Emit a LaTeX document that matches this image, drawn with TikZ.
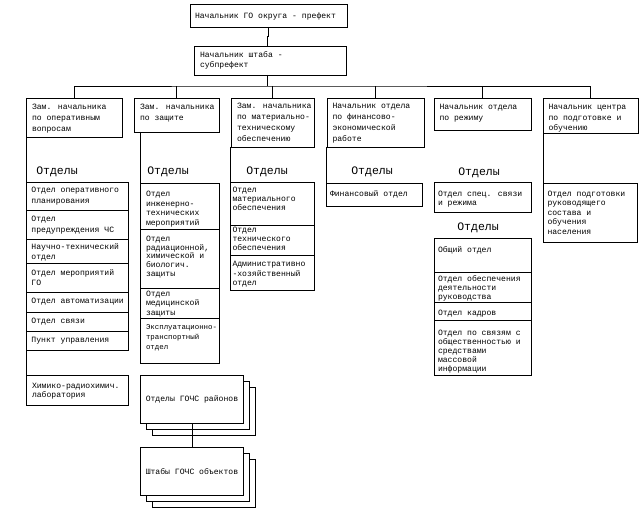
\documentclass[tikz,border=0pt]{standalone}
\usepackage{fontspec}
\newfontfamily\cf{Liberation Mono}
\usetikzlibrary{shadows}
\newcommand\tp{4pt}
\newcommand\hp{5.5pt}
\tikzset{
  cellst/.style={draw, line width=0.9pt, anchor=north west, inner sep=0pt, outer sep=0pt},
  stackst/.style={draw, line width=0.9pt, fill=white, anchor=north west, inner sep=0pt,
    minimum width=103pt, minimum height=48pt, font=\cf\fontsize{8.1}{10}\selectfont,
    copy shadow={shadow xshift=12pt, shadow yshift=-12pt},
    copy shadow={shadow xshift=6pt, shadow yshift=-6pt}},
  otd/.style={inner sep=0pt, font=\cf\fontsize{11.5}{12}\selectfont},
  conn/.style={line width=0.9pt}
}
\newcommand\cell[7][]{\node[cellst] (#2) at (#3,#4) {\parbox[c][#6pt][t]{#5pt}{\cf\fontsize{8.1}{10}\selectfont#1\vspace*{\tp}\hspace*{\hp}\begin{tabular}[t]{@{}l@{}}#7\end{tabular}}};}
\begin{document}
\begin{tikzpicture}[x=1pt,y=-1pt]
\useasboundingbox (0,0) rectangle (640,510);
% top
\cell[\def\tp{8pt}\def\hp{5pt}]{top}{190}{4}{157}{23}{Начальник ГО округа - префект}
\cell[\def\tp{5pt}\def\hp{6pt}]{sub}{194}{46}{152}{29}{Начальник штаба -\\субпрефект}
% headers
\cell[\fontsize{8.1}{11}\selectfont\def\tp{4.3pt}\def\hp{6pt}]{h1}{26}{98}{96}{39}{Зам. начальника\\по оперативным\\вопросам}
\cell[\fontsize{8.1}{11}\selectfont\def\tp{4.3pt}\def\hp{6pt}]{h2}{134}{98}{85}{34}{Зам. начальника\\по защите}
\cell[\fontsize{8.1}{10.7}\selectfont\def\tp{3.5pt}\def\hp{6pt}]{h3}{231}{98}{83}{49}{Зам. начальника\\по материально-\\техническому\\обеспечению}
\cell[\fontsize{8.1}{11}\selectfont\def\tp{2.5pt}\def\hp{5.5pt}]{h4}{327}{98}{97}{49}{Начальник отдела\\по финансово-\\экономической\\работе}
\cell[\fontsize{8.1}{11}\selectfont\def\tp{4.3pt}\def\hp{5.5pt}]{h5}{434}{98}{97}{32}{Начальник отдела\\по режиму}
\cell[\fontsize{8.1}{10.5}\selectfont\def\tp{4.5pt}\def\hp{5.5pt}]{h6}{543}{98}{95}{35}{Начальник центра\\по подготовке и\\обучению}
% Otdely labels
\node[otd] (o1) at (57,172) {Отделы};
\node[otd] (o2) at (168,172) {Отделы};
\node[otd] (o3) at (267,172) {Отделы};
\node[otd] (o4) at (372,172) {Отделы};
\node[otd] (o5) at (479,173) {Отделы};
\node[otd] (o6) at (478,228) {Отделы};
% column 1
\cell[\fontsize{8.1}{11}\selectfont\def\tp{3.3pt}]{a1}{26}{182}{102}{28}{Отдел оперативного\\планирования}
\cell[\fontsize{8.1}{11.5}\selectfont\def\tp{3pt}]{a2}{26}{210}{102}{29}{Отдел\\предупреждения ЧС}
\cell[\def\tp{3.7pt}]{a3}{26}{239}{102}{24}{Научно-технический\\отдел}
\cell[\def\tp{6pt}]{a4}{26}{263}{102}{29}{Отдел мероприятий\\ГО}
\cell[\def\tp{5pt}]{a5}{26}{292}{102}{20}{Отдел автоматизации}
\cell[\def\tp{4.7pt}]{a6}{26}{312}{102}{19}{Отдел связи}
\cell[\def\tp{5pt}]{a7}{26}{331}{102}{19}{Пункт управления}
\cell[\fontsize{8.1}{9.5}\selectfont\def\tp{6.4pt}\def\hp{6pt}]{lab}{26}{375}{102}{30}{Химико-радиохимич.\\лаборатория}
% column 2
\cell[\fontsize{8.1}{9.8}\selectfont\def\tp{6.4pt}\def\hp{6pt}]{b1}{140}{183}{79}{46}{Отдел\\инженерно-\\технических\\мероприятий}
\cell[\fontsize{8.1}{8.75}\selectfont\def\tp{6.2pt}\def\hp{6pt}]{b2}{140}{229}{79}{59}{Отдел\\радиационной,\\химической и\\биологич.\\защиты}
\cell[\fontsize{8.1}{9.7}\selectfont\def\tp{1.5pt}\def\hp{6pt}]{b3}{140}{288}{79}{30}{Отдел\\медицинской\\защиты}
\cell[\fontsize{7.4}{10}\selectfont\def\tp{4.4pt}\def\hp{6pt}]{b4}{140}{318}{79}{45}{Эксплуатационно-\\транспортный\\отдел}
% column 3
\cell[\fontsize{8.1}{9}\selectfont\def\tp{4.7pt}\def\hp{2.5pt}]{c1}{230}{182}{84}{43}{Отдел\\материального\\обеспечения}
\cell[\fontsize{8.1}{9}\selectfont\def\tp{1.5pt}\def\hp{2.5pt}]{c2}{230}{225}{84}{30}{Отдел\\технического\\обеспечения}
\cell[\fontsize{8.1}{9.5}\selectfont\def\tp{5.3pt}\def\hp{2.5pt}]{c3}{230}{255}{84}{35}{Административно\\-хозяйственный\\отдел}
% column 4
\cell[\def\tp{6.6pt}\def\hp{4pt}]{fin}{326}{183}{96}{23}{Финансовый отдел}
% column 5
\cell[\fontsize{8.1}{9}\selectfont\def\tp{8pt}\def\hp{4pt}]{e0}{434}{182}{97}{30}{Отдел спец. связи\\и режима}
\cell[\def\tp{8pt}\def\hp{4pt}]{e1}{434}{238}{97}{34}{Общий отдел}
\cell[\fontsize{8.1}{9}\selectfont\def\tp{3.7pt}\def\hp{4pt}]{e2}{434}{272}{97}{30}{Отдел обеспечения\\деятельности\\руководства}
\cell[\def\tp{7pt}\def\hp{4pt}]{e3}{434}{302}{97}{18}{Отдел кадров}
\cell[\fontsize{8.1}{8.8}\selectfont\def\tp{9.8pt}\def\hp{4pt}]{e4}{434}{320}{97}{55}{Отдел по связям с\\общественностью и\\средствами\\массовой\\информации}
% column 6
\cell[\fontsize{8.1}{9.5}\selectfont\def\tp{6.6pt}\def\hp{4.5pt}]{g1}{543}{183}{94}{59}{Отдел подготовки\\руководящего\\состава и\\обучения\\населения}
% bottom stacks
\node[stackst] (d1) at (140,375) {Отделы ГОЧС районов};
\node[stackst] (d2) at (140,447) {Штабы ГОЧС объектов};
% connectors
\draw[conn] (top.south) -- ++(0,9) -| ([xshift=-3pt]sub.north);
\coordinate (bus) at (267,86);
\draw[conn] ([xshift=-3pt]sub.south) -- (bus);
\draw[conn] (h1.north) |- (bus) -| (h6.north);
\foreach \h in {h2,h3,h4,h5} \draw[conn] (\h.north) -- (\h.north |- bus);
\draw[conn] (h1.south west) -- (lab.north west);
\draw[conn] (h2.south west -| b1.north west) -- (b1.north west);
\draw[conn] (h3.south west -| c1.north west) -- (c1.north west);
\draw[conn] (h4.south west -| fin.north west) -- (fin.north west);
\draw[conn] (h6.south west -| g1.north west) -- (g1.north west);
\draw[conn] (d1.south) -- (d2.north);
\end{tikzpicture}
\end{document}
